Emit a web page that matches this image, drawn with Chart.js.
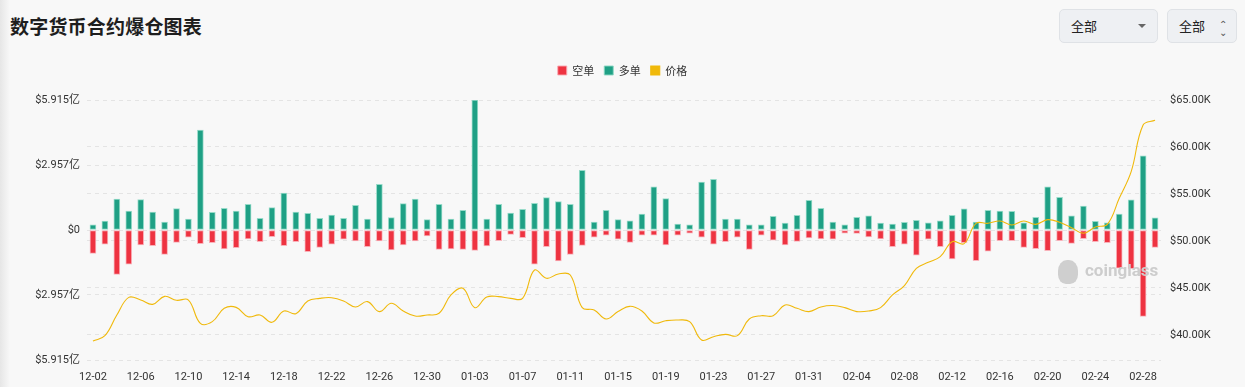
<!DOCTYPE html>
<html>
<head>
<meta charset="utf-8">
<script src="https://cdn.jsdelivr.net/npm/chart.js@4.4.1/dist/chart.umd.min.js"></script>
<style>
  html, body { margin: 0; padding: 0; }
  body {
    width: 1245px; height: 387px; overflow: hidden; position: relative;
    background: #f8f8f8;
    font-family: "Noto Sans CJK SC", Roboto, sans-serif;
  }
  .shade { position: absolute; left: 0; top: 0; width: 10px; height: 387px;
    background: linear-gradient(to right, #e6e6e6, rgba(248,248,248,0)); }
  h1 { position: absolute; left: 10px; top: 12px; margin: 0; font-size: 19px;
    font-weight: 700; color: #1e1e1e; letter-spacing: 0.2px; }
  .sel { position: absolute; top: 9px; height: 34px; box-sizing: border-box;
    background: #eef0f3; border: 1px solid #dfe2e6; border-radius: 5px;
    font-size: 13px; color: #222; line-height: 32px; padding-left: 11px; }
  .sel .car { position: absolute; right: 11px; top: 14px; width: 0; height: 0;
    border-left: 4px solid transparent; border-right: 4px solid transparent; border-top: 4px solid #666; }
  .sel .ud { position: absolute; right: 9px; top: 0; font-size: 10px; color: #555; line-height: 10px; }
  canvas { position: absolute; left: 0; top: 0; }
  .wm { position: absolute; left: 1085px; top: 260px; font: 700 17px Roboto, sans-serif; color: #cdcdcd; }
  .wmi { position: absolute; left: 1058px; top: 260px; width: 20px; height: 24px; border-radius: 45% 45% 40% 40%; background: #cfcfcf; }
</style>
</head>
<body>
<div class="shade"></div>
<h1>数字货币合约爆仓图表</h1>
<div class="sel" style="left:1059px;width:99px;">全部<span class="car"></span></div>
<div class="sel" style="left:1167px;width:70px;">全部<span class="ud" style="top:9px">&#x2303;</span><span class="ud" style="top:17px">&#x2304;</span></div>
<canvas id="myChart" width="1245" height="387"></canvas>
<div class="wmi"></div>
<div class="wm">coinglass</div>
<script>
const dates = [
  "12-02","12-03","12-04","12-05","12-06","12-07","12-08","12-09","12-10","12-11",
  "12-12","12-13","12-14","12-15","12-16","12-17","12-18","12-19","12-20","12-21",
  "12-22","12-23","12-24","12-25","12-26","12-27","12-28","12-29","12-30","12-31",
  "01-01","01-02","01-03","01-04","01-05","01-06","01-07","01-08","01-09","01-10",
  "01-11","01-12","01-13","01-14","01-15","01-16","01-17","01-18","01-19","01-20",
  "01-21","01-22","01-23","01-24","01-25","01-26","01-27","01-28","01-29","01-30",
  "01-31","02-01","02-02","02-03","02-04","02-05","02-06","02-07","02-08","02-09",
  "02-10","02-11","02-12","02-13","02-14","02-15","02-16","02-17","02-18","02-19",
  "02-20","02-21","02-22","02-23","02-24","02-25","02-26","02-27","02-28","02-29"
];

// 空单 (short liquidations), 亿 USD
const shorts = [
  1.06,0.65,2.02,1.56,0.68,0.71,1.11,0.56,0.33,0.62,0.58,0.86,0.80,0.41,0.53,0.30,0.71,0.53,
  0.99,0.79,0.65,0.42,0.50,0.76,0.50,0.91,0.68,0.50,0.27,0.88,0.86,0.88,0.93,0.73,0.49,0.20,
  0.35,1.56,0.76,1.41,1.11,0.70,0.33,0.24,0.42,0.56,0.24,0.24,0.68,0.24,0.14,0.33,0.64,0.53,
  0.33,0.88,0.24,0.46,0.68,0.52,0.36,0.41,0.42,0.14,0.15,0.32,0.41,0.76,0.64,1.14,0.42,0.76,
  1.32,0.58,1.40,0.96,0.49,0.49,0.79,0.85,0.94,0.49,0.61,0.39,0.53,0.58,1.74,1.76,3.93,0.79
];

// 多单 (long liquidations), 亿 USD
const longs = [
  0.23,0.41,1.41,0.86,1.38,0.82,0.36,0.97,0.50,4.55,0.80,0.99,0.86,1.17,0.53,1.02,1.68,0.82,
  0.76,0.53,0.68,0.53,1.12,0.50,2.08,0.56,1.20,1.41,0.47,1.17,0.50,0.89,5.91,0.50,1.17,0.77,
  0.94,1.21,1.47,1.29,1.17,2.71,0.36,0.89,0.47,0.42,0.73,1.96,1.43,0.27,0.23,2.18,2.31,0.50,
  0.50,0.24,0.23,0.62,0.32,0.67,1.35,0.99,0.36,0.24,0.58,0.64,0.32,0.27,0.35,0.44,0.33,0.42,
  0.67,0.96,0.36,0.89,0.86,0.85,0.33,0.58,1.96,1.49,0.65,1.09,0.39,0.33,0.73,1.37,3.38,0.55
];

// 价格, K USD
const prices = [
  39.36,39.93,42.13,44.00,43.72,43.26,44.11,43.69,43.72,41.24,41.42,42.84,42.94,41.95,42.13,41.35,42.55,42.27,
  43.62,43.90,43.97,43.62,42.98,43.55,42.49,43.37,42.55,42.02,42.13,42.31,44.26,44.97,42.91,44.04,44.08,43.90,
  43.90,46.91,46.03,46.49,46.38,42.91,42.66,41.70,42.49,43.05,42.55,41.28,41.52,41.60,41.42,39.47,39.82,40.07,
  39.93,41.70,42.05,42.05,43.19,42.84,42.49,42.98,43.13,42.91,42.49,42.55,42.91,44.26,45.26,47.09,47.73,48.33,
  49.93,49.72,51.88,51.88,52.13,51.70,52.13,51.77,52.27,51.99,51.42,50.82,51.49,51.77,54.54,57.38,62.34,62.84
];

const leftTicks = [-5.915, -2.957, 0, 2.957, 5.915];
const rightTicks = [40, 45, 50, 55, 60, 65];

const legendGap = {
  id: 'legendGap',
  beforeInit(chart) {
    const fit = chart.legend.fit;
    chart.legend.fit = function () { fit.call(this); this.height += 14; };
  }
};

Chart.defaults.font.family = 'Roboto, "Noto Sans CJK SC", sans-serif';
Chart.defaults.color = '#333';

const ctx = document.getElementById('myChart').getContext('2d');
const chart = new Chart(ctx, {
  type: 'bar',
  data: {
    labels: dates,
    datasets: [{
      label: '空单',
      data: shorts.map(v => -v),
      backgroundColor: '#ee3341',
      borderColor: 'rgba(248,170,178,0.9)',
      borderWidth: 1,
      borderSkipped: false,
      barThickness: 6,
      yAxisID: 'y',
      order: 1
    }, {
      label: '多单',
      data: longs,
      backgroundColor: '#1fa085',
      borderColor: 'rgba(140,215,195,0.9)',
      borderWidth: 1,
      borderSkipped: false,
      barThickness: 6,
      yAxisID: 'y',
      order: 1
    }, {
      type: 'line',
      label: '价格',
      data: prices,
      borderColor: '#f0b90b',
      backgroundColor: '#f0b90b',
      borderWidth: 1.1,
      pointRadius: 0,
      tension: 0.4,
      yAxisID: 'y1',
      order: 0
    }]
  },
  options: {
    responsive: false,
    animation: false,
    layout: { padding: { top: 55, left: 0, right: 0, bottom: 0 } },
    plugins: {
      legend: {
        labels: {
          boxWidth: 9, boxHeight: 9, padding: 10, color: '#333',
          font: { size: 11, family: '"Noto Sans CJK SC", sans-serif' },
          sort: (a, b) => a.datasetIndex - b.datasetIndex
        }
      },
      tooltip: { enabled: false }
    },
    scales: {
      x: {
        stacked: true,
        grid: { display: false },
        border: { display: false },
        ticks: {
          autoSkip: false, maxRotation: 0, font: { size: 11 }, color: '#333', padding: 3,
          callback: function (v, i) { return i % 4 === 0 ? dates[i] : ''; }
        },
        afterFit(scale) { scale.height = 27; }
      },
      y: {
        position: 'left',
        stacked: true,
        min: -5.915, max: 5.915,
        grid: { color: '#e4e4e4', drawTicks: false },
        border: { display: false, dash: [4, 4] },
        afterBuildTicks(scale) { scale.ticks = leftTicks.map(v => ({ value: v })); },
        ticks: {
          padding: 7, font: { size: 11 }, color: '#333',
          callback: v => v === 0 ? '$0' : '$' + Math.abs(v).toFixed(3) + '亿'
        },
        afterFit(scale) { scale.width = 87; }
      },
      y1: {
        position: 'right',
        min: 37.34, max: 65,
        grid: { color: '#e4e4e4', drawTicks: false },
        border: { display: false, dash: [4, 4] },
        afterBuildTicks(scale) { scale.ticks = rightTicks.map(v => ({ value: v })); },
        ticks: {
          padding: 9, font: { size: 11 }, color: '#333',
          callback: v => '$' + v.toFixed(2) + 'K'
        },
        afterFit(scale) { scale.width = 84; }
      }
    }
  },
  plugins: [legendGap]
});
</script>
</body>
</html>
